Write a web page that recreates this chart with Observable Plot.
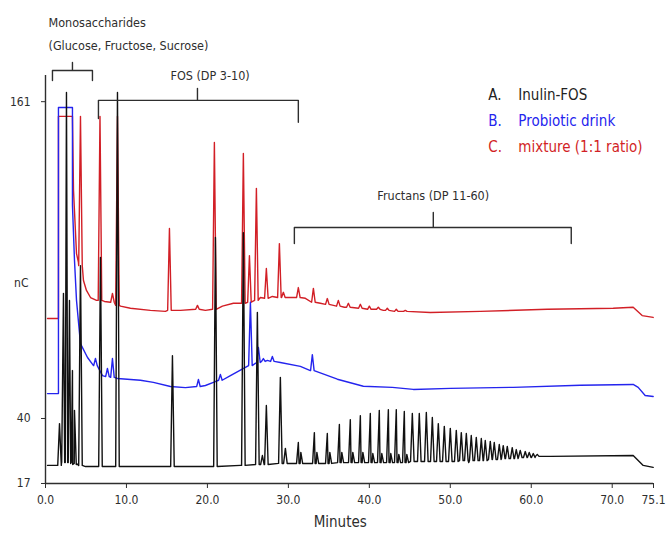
<!DOCTYPE html>
<html><head><meta charset="utf-8">
<script src="https://cdn.jsdelivr.net/npm/d3@7"></script>
<script src="https://cdn.jsdelivr.net/npm/@observablehq/plot@0.6"></script>
<style>body{margin:0;background:#fff}</style>
</head><body><div id="chart"></div>
<script>
// ---- tick labels ----
const xTicks = [0, 10, 20, 30, 40, 50, 60, 70, 75.1];
const yTicks = [17, 40, 161];

// ---- A. Inulin-FOS (black) : baseline knots [min, nC] and peaks [min, apex nC, base nC] ----
const blackBaseline = [
  [0.25, 23.4], [1.48, 23.4], [1.98, 24.4], [3.83, 24.1], [4.94, 23.0], [24.07, 23.4],
  [30.5, 24.1], [52.28, 24.4], [62.35, 26.6], [72.59, 26.9], [73.83, 23.4], [75.06, 22.7]
];
const blackPeaks = [
  [1.73, 38.2, 23.4], [2.22, 87.8, 24.4], [2.59, 164.5, 24.4], [2.96, 85.1, 24.4], [3.33, 58.3, 24.1],
  [3.58, 43.1, 23.7], [4.32, 98.4, 23.4], [6.79, 101.5, 23.0], [8.89, 164.5, 23.0], [15.68, 64.0, 23.0],
  [20.99, 109.1, 23.0], [24.44, 111.0, 23.4], [26.17, 80.5, 23.7], [26.79, 26.9, 23.7], [27.28, 45.0, 23.7],
  [29.01, 55.7, 24.1], [29.63, 29.4, 24.1], [31.23, 31.5, 24.1], [31.54, 28.0, 24.1], [33.21, 35.0, 24.1],
  [33.52, 28.0, 24.1], [34.81, 34.7, 24.1], [35.12, 28.0, 24.1], [36.30, 37.9, 24.4], [36.60, 28.0, 24.4],
  [37.65, 39.6, 24.4], [37.96, 28.0, 24.4], [38.89, 41.1, 24.4], [39.20, 28.0, 24.4], [40.12, 41.9, 24.4],
  [40.43, 27.6, 24.4], [41.23, 43.1, 24.4], [41.54, 27.6, 24.4], [42.35, 43.4, 24.4], [42.65, 27.6, 24.4],
  [43.33, 43.4, 24.4], [43.64, 27.3, 24.4], [44.32, 42.7, 24.4], [44.63, 27.3, 24.4], [45.31, 41.9, 24.8],
  [46.17, 41.9, 24.8], [47.04, 42.3, 24.8], [47.78, 40.4, 24.8], [48.52, 38.2, 24.8], [49.26, 37.2, 24.8],
  [50.00, 36.5, 24.8], [50.74, 35.8, 24.8], [51.36, 35.0, 25.1], [51.98, 34.7, 25.1], [52.59, 34.0, 25.1],
  [53.21, 33.3, 25.1], [53.83, 32.9, 25.1], [54.32, 32.2, 25.1], [54.94, 31.9, 25.5], [55.43, 31.5, 25.5],
  [56.05, 30.8, 25.5], [56.54, 30.4, 25.8], [57.04, 30.1, 25.8], [57.65, 29.7, 25.8], [58.15, 29.0, 25.8],
  [58.64, 28.7, 26.2], [59.26, 28.3, 26.2], [59.75, 28.0, 26.2], [60.25, 27.6, 26.2], [60.74, 27.3, 26.6]
];

// ---- B. Probiotic drink (blue) ----
const blueBaseline = [
  [0.25, 49.5], [1.6, 49.5], [1.6, 158.8], [3.33, 158.8], [3.33, 121.4], [3.58, 100.4], [3.83, 85.1],
  [4.32, 68.6], [5.19, 63.3], [5.93, 60.2], [7.04, 56.4], [7.9, 56.0], [8.89, 55.3], [11.73, 54.6],
  [13.33, 53.8], [15.43, 52.2], [17.28, 51.8], [19.75, 52.6], [20.74, 53.8], [22.84, 56.4], [24.69, 59.5],
  [27.41, 62.2], [29.01, 61.4], [31.48, 59.9], [32.72, 58.3], [36.05, 55.0], [39.26, 52.3], [42.84, 51.9],
  [45.43, 51.1], [50.0, 51.5], [57.78, 51.9], [66.05, 52.7], [72.59, 53.0], [73.21, 51.9], [74.07, 48.8],
  [75.06, 48.4]
];
const bluePeaks = [
  [6.17, 62.9, 60.2], [7.65, 59.1, 56.0], [8.27, 62.9, 55.7], [18.89, 54.9, 52.2], [21.6, 56.8, 54.6],
  [25.31, 84.4, 60.2], [26.3, 67.1, 61.4], [26.91, 62.9, 61.8], [28.02, 63.7, 61.8], [32.96, 64.4, 58.3]
];

// ---- C. mixture 1:1 (red) ----
const redBaseline = [
  [0.25, 78.2], [1.6, 78.2], [1.6, 155.4], [3.33, 155.4], [3.46, 127.1], [3.83, 103.0], [4.07, 99.6],
  [4.69, 92.7], [5.06, 88.9], [5.56, 86.2], [6.3, 85.1], [7.28, 84.7], [8.02, 84.4], [9.26, 82.9],
  [10.49, 82.1], [12.96, 81.3], [14.81, 80.9], [16.67, 81.3], [19.75, 81.3], [21.85, 82.9], [23.21, 84.0],
  [26.54, 86.2], [28.02, 86.6], [30.25, 86.2], [32.1, 85.9], [33.95, 84.0], [35.56, 83.2], [36.91, 82.5],
  [41.73, 81.3], [47.53, 80.5], [53.7, 80.9], [61.98, 81.7], [70.12, 82.1], [72.59, 82.5], [73.7, 79.3],
  [75.06, 78.6]
];
const redPeaks = [
  [4.32, 155.4, 98.4], [6.73, 155.4, 85.1], [8.27, 87.8, 84.4], [8.89, 155.4, 83.2], [15.31, 112.6, 81.3],
  [18.77, 83.2, 81.7], [20.86, 145.4, 81.7], [24.44, 141.2, 84.0], [25.19, 102.2, 84.4], [26.05, 127.9, 85.1],
  [27.28, 97.3, 85.9], [28.89, 106.8, 86.2], [29.38, 88.2, 86.2], [31.23, 90.0, 86.2], [33.09, 89.7, 84.4],
  [34.81, 85.8, 83.6], [36.17, 85.1, 82.9], [37.41, 84.0, 82.5], [38.89, 83.6, 82.1], [40.0, 82.9, 81.7],
  [41.11, 82.5, 81.7], [42.22, 82.1, 81.3], [43.33, 81.7, 80.9], [44.44, 81.3, 80.9]
];

const seriesNames = ["Inulin-FOS", "Probiotic drink", "mixture (1:1 ratio)"];
const seriesLetters = ["A.", "B.", "C."];

// build polyline vertices (baseline knots + peak triangles), ordered by time
const HALF = 0.22;
function trace(baseline, peaks) {
  const pts = baseline.map(([t, v]) => ({t, v}));
  for (const [t, apex, base] of peaks) {
    pts.push({t: t - HALF, v: base}, {t, v: apex}, {t: t + HALF, v: base});
  }
  return pts.map((p, i) => ({...p, i})).sort((a, b) => a.t - b.t || a.i - b.i);
}

const FONT = "'DejaVu Sans Condensed','Liberation Sans Narrow',sans-serif";
const INK = "#2e2e2e";
const RED = "#d21f26", BLUE = "#2424ee", BLACK = "#111";
const bracketStyle = {stroke: INK, strokeWidth: 1.4, strokeLinejoin: "round"};

// the instrument's nC axis is stretched slightly below 40 nC
const yStretch = v => v >= 40 ? v : 40 - (40 - v) * 1.0795;

const chart = Plot.plot({
  width: 668, height: 536,
  marginLeft: 45, marginRight: 15, marginTop: 75, marginBottom: 53,
  style: {fontFamily: FONT, fontSize: "12px", color: INK, background: "#fff"},
  x: {domain: [0, 75.1]},
  y: {domain: [15.17, 171], transform: yStretch},
  marks: [
    Plot.line(trace(redBaseline, redPeaks), {x: "t", y: "v", stroke: RED, strokeWidth: 1.4}),
    Plot.line(trace(blueBaseline, bluePeaks), {x: "t", y: "v", stroke: BLUE, strokeWidth: 1.4}),
    Plot.line(trace(blackBaseline, blackPeaks), {x: "t", y: "v", stroke: BLACK, strokeWidth: 1.4}),
    Plot.ruleX([0], {y1: 17, y2: 171, stroke: INK, strokeWidth: 1.4}),
    Plot.ruleY([17], {x1: 0, x2: 75.1, stroke: INK, strokeWidth: 1.4}),
    Plot.axisY({ticks: yTicks.map(yStretch), tickFormat: (d, i) => String(yTicks[i]), tickSize: 4, tickPadding: 11, label: null, fontSize: 12, stroke: INK}),
    Plot.axisX({ticks: xTicks, tickFormat: d3.format(".1f"), tickSize: 5, tickPadding: 7, label: null, fontSize: 12, stroke: INK}),
    Plot.text(["nC"], {x: 0, y: 91.6, dx: -17, textAnchor: "end", fontSize: 12, fill: INK}),
    Plot.text(["Minutes"], {x: 36.4, y: 3.2, textAnchor: "middle", fontSize: 15, fill: INK}),
    // brackets
    Plot.line([[0.86,169.1],[0.86,172.9],[3.33,172.9],[3.33,176.0],[3.33,172.9],[5.8,172.9],[5.8,169.1]], bracketStyle),
    Plot.line([[6.54,154.6],[6.54,161.5],[18.77,161.5],[18.77,166.1],[18.77,161.5],[31.23,161.5],[31.23,153.1]], bracketStyle),
    Plot.line([[30.74,106.8],[30.74,112.96],[47.9,112.96],[47.9,118.7],[47.9,112.96],[64.94,112.96],[64.94,106.8]], bracketStyle),
    // annotations
    Plot.text(["Monosaccharides"], {x: 0.37, y: 191.1, textAnchor: "start", fontSize: 12.5, fill: INK}),
    Plot.text(["(Glucose, Fructose, Sucrose)"], {x: 0.37, y: 182.3, textAnchor: "start", fontSize: 12.5, fill: INK}),
    Plot.text(["FOS (DP 3-10)"], {x: 15.43, y: 170.8, textAnchor: "start", fontSize: 12.5, fill: INK}),
    Plot.text(["Fructans (DP 11-60)"], {x: 40.99, y: 125.0, textAnchor: "start", fontSize: 12.5, fill: INK}),
    // legend
    Plot.text(seriesLetters, {x: 54.69, y: [163.4, 153.4, 143.5], text: d => d, textAnchor: "start", fontSize: 15, fill: ["#222", BLUE, RED]}),
    Plot.text(seriesNames, {x: 58.4, y: [163.4, 153.4, 143.5], text: d => d, textAnchor: "start", fontSize: 15, fill: ["#222", BLUE, RED]})
  ]
});
document.getElementById("chart").appendChild(chart);
</script>
</body></html>
